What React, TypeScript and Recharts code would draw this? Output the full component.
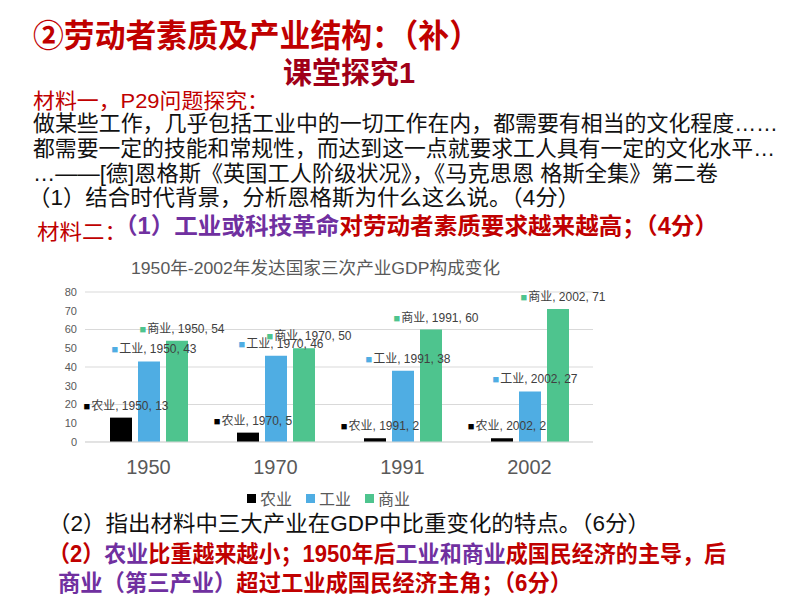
import { BarChart, Bar, XAxis, YAxis, CartesianGrid, Legend, LabelList } from 'recharts';

const years = ['1950', '1970', '1991', '2002'];
const agriculture = [13, 5, 2, 2];
const industry = [43, 46, 38, 27];
const commerce = [54, 50, 60, 71];
const seriesNames = ['农业', '工业', '商业'];
const seriesColors = ['#000000', '#4FADE3', '#4EC48E'];
const yTicks = [0, 10, 20, 30, 40, 50, 60, 70, 80];

const chartTitle = '1950年-2002年发达国家三次产业GDP构成变化';

const SANS = '"Liberation Sans", "Noto Sans CJK SC", sans-serif';
const RED = '#C00000';
const DARK_RED = '#A00018';
const PURPLE = '#7030A0';

const valuesBySeries = [agriculture, industry, commerce];

const data = years.map((year, i) => {
  const row: Record<string, string | number> = { year };
  seriesNames.forEach((name, s) => {
    row[name] = valuesBySeries[s][i];
    row[name + 'Tag'] = `${name}, ${year}, ${valuesBySeries[s][i]}`;
  });
  return row;
});

// slide text lines: [x, baseline, fontSize, textLength, weight, segments]
type Seg = [string, string];
type Line = { x: number; y: number; size: number; len: number; bold?: boolean; segs: Seg[] };

const lines: Line[] = [
  { x: 33, y: 47, size: 32, len: 447, bold: true, segs: [['②劳动者素质及产业结构：（补）', RED]] },
  { x: 283, y: 83, size: 30, len: 132, bold: true, segs: [['课堂探究1', DARK_RED]] },
  { x: 33, y: 108, size: 21, len: 236, segs: [['材料一，P29问题探究：', RED]] },
  { x: 33, y: 131, size: 22, len: 745, segs: [['做某些工作，几乎包括工业中的一切工作在内，都需要有相当的文化程度……', '#111']] },
  { x: 33, y: 156, size: 22, len: 742, segs: [['都需要一定的技能和常规性，而达到这一点就要求工人具有一定的文化水平…', '#111']] },
  { x: 33, y: 181, size: 22, len: 685, segs: [['…——[德]恩格斯《英国工人阶级状况》，《马克思恩 格斯全集》第二卷', '#111']] },
  { x: 28, y: 205, size: 22, len: 552, segs: [['（1）结合时代背景，分析恩格斯为什么这么说。（4分）', '#111']] },
  { x: 37, y: 239, size: 21, len: 90, segs: [['材料二：', RED]] },
  {
    x: 114, y: 234, size: 23, len: 604, bold: true,
    segs: [['（1）工业或科技革命', PURPLE], ['对劳动者素质要求越来越高；（4分）', RED]],
  },
  { x: 48, y: 531, size: 22, len: 602, segs: [['（2）指出材料中三大产业在GDP中比重变化的特点。（6分）', '#111']] },
  {
    x: 48, y: 562, size: 23, len: 678, bold: true,
    segs: [
      ['（2）', RED], ['农业', PURPLE], ['比重越来越小；1950年后', RED],
      ['工业和商业', PURPLE], ['成国民经济的主导，后', RED],
    ],
  },
  {
    x: 58, y: 591, size: 23, len: 514, bold: true,
    segs: [['商业（第三产业）', PURPLE], ['超过工业成国民经济主角；（6分）', RED]],
  },
];

const makeTag = (color: string) => (props: any) => {
  const { x, y, width, value } = props;
  const cx = Number(x) + Number(width) / 2 + 5;
  return (
    <text x={cx} y={Number(y) - 8} textAnchor='middle' fontSize={12} fontFamily={SANS} fill='#404040'>
      <tspan fill={color} fontSize={11}>■</tspan>
      <tspan dx={1}>{value}</tspan>
    </text>
  );
};

const renderLegend = () => (
  <div style={{ display: 'flex', gap: 14, fontFamily: SANS, fontSize: 16, color: '#595959', whiteSpace: 'nowrap' }}>
    {seriesNames.map((name, i) => (
      <span key={name} style={{ display: 'flex', alignItems: 'center', gap: 4 }}>
        <span style={{ width: 9, height: 9, background: seriesColors[i], display: 'inline-block' }} />
        {name}
      </span>
    ))}
  </div>
);

const App = () => {
  return (
    <div style={{ position: 'absolute', left: 0, top: 0, width: 794, height: 596, background: '#fff', overflow: 'hidden' }}>
      <div style={{ position: 'absolute', left: 0, top: 250 }}>
        <BarChart
          width={620}
          height={260}
          data={data}
          margin={{ top: 42, right: 27, left: 40, bottom: 38 }}
          barSize={22}
          barGap={6}
        >
          <CartesianGrid vertical={false} stroke='#D9D9D9' />
          <XAxis
            dataKey='year'
            height={30}
            tickLine={false}
            tickSize={0}
            tickMargin={18}
            axisLine={{ stroke: '#D9D9D9' }}
            tick={{ fontSize: 20, fill: '#595959', fontFamily: SANS }}
          />
          <YAxis
            width={45}
            domain={[0, 80]}
            ticks={yTicks}
            axisLine={false}
            tickLine={false}
            tickSize={0}
            tickMargin={8}
            tick={{ fontSize: 11, fill: '#595959', fontFamily: SANS }}
          />
          <Legend
            layout='vertical'
            align='center'
            verticalAlign='middle'
            wrapperStyle={{ left: 247, top: 236, width: 200 }}
            content={renderLegend}
          />
          {seriesNames.map((name, i) => (
            <Bar key={name} dataKey={name} fill={seriesColors[i]} isAnimationActive={false}>
              <LabelList dataKey={name + 'Tag'} content={makeTag(seriesColors[i])} />
            </Bar>
          ))}
        </BarChart>
      </div>
      <svg width={794} height={596} style={{ position: 'absolute', left: 0, top: 0, pointerEvents: 'none' }}>
        <text x={131} y={274} fontSize={17} fontFamily={SANS} fill='#595959' textLength={369} lengthAdjust='spacingAndGlyphs'>
          {chartTitle}
        </text>
        {lines.map((ln, i) => (
          <text
            key={i}
            x={ln.x}
            y={ln.y}
            fontSize={ln.size}
            fontWeight={ln.bold ? 700 : 400}
            fontFamily={SANS}
            textLength={ln.len}
            lengthAdjust='spacingAndGlyphs'
          >
            {ln.segs.map(([t, c], j) => (
              <tspan key={j} fill={c}>{t}</tspan>
            ))}
          </text>
        ))}
      </svg>
    </div>
  );
};

export default App;
